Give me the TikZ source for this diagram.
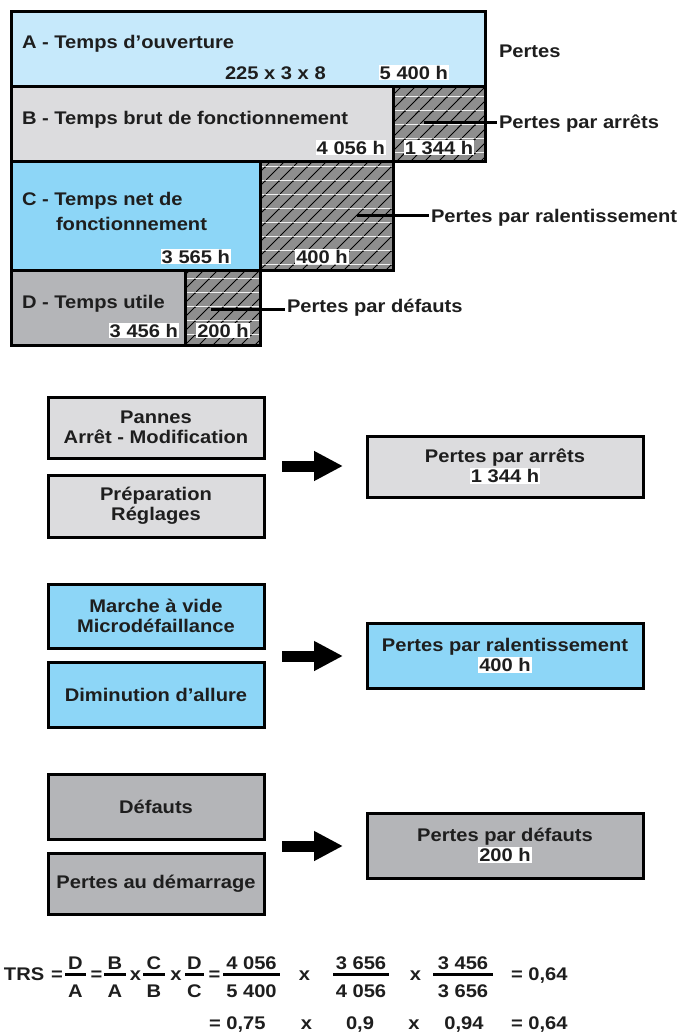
\documentclass[tikz,border=0pt]{standalone}
\usepackage{fontspec}
\setmainfont{Liberation Sans}[FakeStretch=1.1]
\usetikzlibrary{patterns.meta,arrows.meta}
\definecolor{blueA}{HTML}{C6E9FB}
\definecolor{grayB}{HTML}{DCDCDE}
\definecolor{blueC}{HTML}{8DD6F7}
\definecolor{grayD}{HTML}{B4B5B8}
\definecolor{hmid}{HTML}{8E8E8E}
\definecolor{ink}{HTML}{1E1E1E}
\newcommand\halo[1]{{\setlength\fboxsep{1pt}\colorbox{white}{#1}}}
\tikzdeclarepattern{
  name=hatchpat,
  type=colored,
  bounding box={(0pt,0pt) and (14pt,14pt)},
  tile size={(14pt,14pt)},
  code={
    \fill[hmid] (0pt,0pt) rectangle (14pt,14pt);
    \draw[black,line width=1.1pt] (0pt,0pt) -- (14pt,14pt);
  }
}
\tikzset{
  lbl/.style={font=\bfseries\fontsize{18.3}{20}\selectfont, text=ink, inner sep=0pt, outer sep=0pt},
  area/.style={draw=black, line width=3pt, inner sep=0pt, outer sep=0pt, anchor=north west},
  hatch/.style={area, pattern=hatchpat},
  cause/.style={area, lbl, align=center, minimum width=216},
  res/.style={area, lbl, align=center, minimum width=276},
  leader/.style={draw=black, line width=3pt},
  bigarrow/.style={line width=11pt, -{Triangle[length=29pt,width=28pt]}},
  fbar/.style={line width=3pt}
}
\begin{document}
\begin{tikzpicture}[x=1pt,y=-1pt]
\fill[white] (0,0) rectangle (679,1034);
\useasboundingbox (0,0) rectangle (679,1034);
% top chart
\node[area, fill=blueA, minimum width=474, minimum height=75] (A) at (11,11) {};
\node[area, fill=grayB, minimum width=382, minimum height=75] (B) at (11,86) {};
\node[hatch, minimum width=92, minimum height=75] (Bh) at (393,86) {};
\node[area, fill=blueC, minimum width=249, minimum height=109] (C) at (11,161) {};
\node[hatch, minimum width=133, minimum height=109] (Ch) at (260,161) {};
\node[area, fill=grayD, minimum width=174, minimum height=75] (D) at (11,270) {};
\node[hatch, minimum width=75, minimum height=75] (Dh) at (185,270) {};
\node[lbl, anchor=base west] (tA) at (22,48) {A - Temps d'ouverture};
\node[lbl, anchor=base west] (tAc) at (225,79) {225 x 3 x 8};
\node[lbl, anchor=base east] (vA) at (449,79) {\halo{5 400 h}};
\node[lbl, anchor=base west] (pertes) at (499,57) {Pertes};
\node[lbl, anchor=base west] (tB) at (22,124) {B - Temps brut de fonctionnement};
\node[lbl, anchor=base east] (vB) at (386,154) {\halo{4 056 h}};
\node[lbl, anchor=base] (vBh) at (439,154) {\halo{1 344 h}};
\node[lbl, anchor=base west] (lB) at (499,128) {Pertes par arrêts};
\coordinate (cB) at (424,122);
\draw[leader] (cB) -- ([xshift=-2pt]cB -| lB.west);
\node[lbl, anchor=base west] (tC1) at (22,205) {C - Temps net de};
\node[lbl, anchor=base west] (tC2) at (56,230) {fonctionnement};
\node[lbl, anchor=base east] (vC) at (231,263) {\halo{3 565 h}};
\node[lbl, anchor=base] (vCh) at (322,263) {\halo{400 h}};
\node[lbl, anchor=base west] (lC) at (431,222) {Pertes par ralentissement};
\coordinate (cC) at (357,215);
\draw[leader] (cC) -- ([xshift=-2pt]cC -| lC.west);
\node[lbl, anchor=base west] (tD) at (22,308) {D - Temps utile};
\node[lbl, anchor=base east] (vD) at (179,337) {\halo{3 456 h}};
\node[lbl, anchor=base] (vDh) at (223,337) {\halo{200 h}};
\node[lbl, anchor=base west] (lD) at (287,312) {Pertes par défauts};
\coordinate (cD) at (211,309);
\draw[leader] (cD) -- ([xshift=-2pt]cD -| lD.west);
% group 1
\node[cause, fill=grayB, minimum height=61] (p1) at (48,397) {Pannes\\Arrêt - Modification};
\node[cause, fill=grayB, minimum height=62] (p2) at (48,475) {Préparation\\Réglages};
\node[res, fill=grayB, minimum height=61] (r1) at (367,436) {Pertes par arrêts\\\halo{1 344 h}};
\coordinate (a1s) at (282,466); \coordinate (a1e) at (343,466);
\draw[bigarrow] (a1s) -- (a1e);
% group 2
\node[cause, fill=blueC, minimum height=64] (q1) at (48,584) {Marche à vide\\Microdéfaillance};
\node[cause, fill=blueC, minimum height=65] (q2) at (48,662) {Diminution d'allure};
\node[res, fill=blueC, minimum height=65] (r2) at (367,623) {Pertes par ralentissement\\\halo{400 h}};
\coordinate (a2s) at (282,656); \coordinate (a2e) at (343,656);
\draw[bigarrow] (a2s) -- (a2e);
% group 3
\node[cause, fill=grayD, minimum height=65] (s1) at (48,774) {Défauts};
\node[cause, fill=grayD, minimum height=61] (s2) at (48,853) {Pertes au démarrage};
\node[res, fill=grayD, minimum height=65] (r3) at (367,813) {Pertes par défauts\\\halo{200 h}};
\coordinate (a3s) at (282,846); \coordinate (a3e) at (343,846);
\draw[bigarrow] (a3s) -- (a3e);
% formula line 1
\node[lbl, anchor=base west] (trs) at (4,980) {TRS};
\node[lbl, anchor=base] (e1) at (57,980) {=};
\node[lbl, anchor=base] (n1) at (75.5,969) {D};
\node[lbl, anchor=base] (d1) at (75.5,997) {A};
\draw[fbar] (65,974) -- (86,974);
\node[lbl, anchor=base] (e2) at (96.5,980) {=};
\node[lbl, anchor=base] (n2) at (115,969) {B};
\node[lbl, anchor=base] (d2) at (115,997) {A};
\draw[fbar] (104,974) -- (126,974);
\node[lbl, anchor=base] (x1) at (135.5,980) {x};
\node[lbl, anchor=base] (n3) at (154,969) {C};
\node[lbl, anchor=base] (d3) at (154,997) {B};
\draw[fbar] (143,974) -- (165,974);
\node[lbl, anchor=base] (x2) at (176,980) {x};
\node[lbl, anchor=base] (n4) at (194.5,969) {D};
\node[lbl, anchor=base] (d4) at (194.5,997) {C};
\draw[fbar] (185,974) -- (204,974);
\node[lbl, anchor=base] (e3) at (214.5,980) {=};
\node[lbl, anchor=base] (n5) at (251.5,969) {4 056};
\node[lbl, anchor=base] (d5) at (251.5,997) {5 400};
\draw[fbar] (223,974) -- (280,974);
\node[lbl, anchor=base] (x3) at (304.5,980) {x};
\node[lbl, anchor=base] (n6) at (361,969) {3 656};
\node[lbl, anchor=base] (d6) at (361,997) {4 056};
\draw[fbar] (333,974) -- (389,974);
\node[lbl, anchor=base] (x4) at (415.5,980) {x};
\node[lbl, anchor=base] (n7) at (463,969) {3 456};
\node[lbl, anchor=base] (d7) at (463,997) {3 656};
\draw[fbar] (433,974) -- (493,974);
\node[lbl, anchor=base west] (res1) at (511,980) {= 0,64};
% formula line 2
\node[lbl, anchor=base west] (f2a) at (209,1029) {= 0,75};
\node[lbl, anchor=base] (x5) at (306.5,1029) {x};
\node[lbl, anchor=base] (f2b) at (360,1029) {0,9};
\node[lbl, anchor=base] (x6) at (414,1029) {x};
\node[lbl, anchor=base] (f2c) at (464,1029) {0,94};
\node[lbl, anchor=base west] (res2) at (511,1029) {= 0,64};
\end{tikzpicture}
\end{document}
